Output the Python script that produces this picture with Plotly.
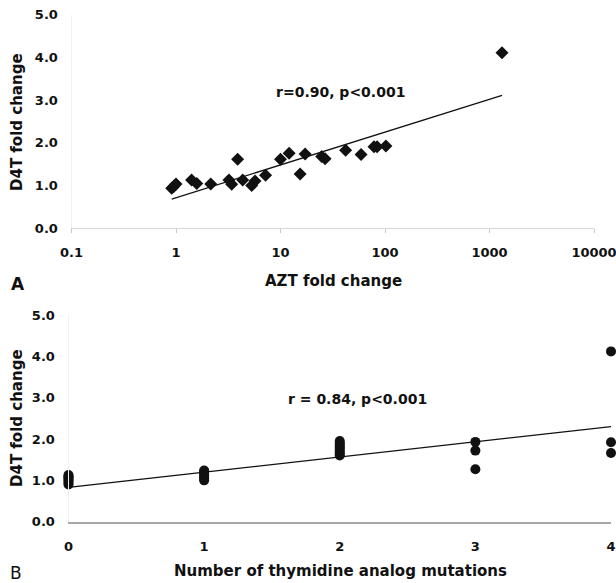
import plotly.graph_objects as go
import math

# Panel A data: AZT fold change vs D4T fold change
azt_fold = [0.91, 0.95, 1.0, 1.41, 1.58, 2.15, 3.21, 3.41, 3.89, 4.35, 5.3, 5.7, 7.2,
            10.0, 12.1, 15.4, 17.2, 24.8, 26.7, 42, 59, 78.5, 84, 102, 1318]
d4t_fold_a = [0.94, 0.98, 1.04, 1.13, 1.05, 1.04, 1.13, 1.03, 1.62, 1.13, 1.00, 1.11, 1.24,
              1.62, 1.76, 1.27, 1.74, 1.68, 1.63, 1.83, 1.73, 1.91, 1.91, 1.93, 4.11]
fit_a = {"intercept": 0.717, "slope": 0.768}  # y = a + b*log10(x)

# Panel B data: number of thymidine analog mutations vs D4T fold change
tam_count = [0, 0, 0, 0, 0, 0, 0,
             1, 1, 1, 1, 1, 1,
             2, 2, 2, 2, 2, 2, 2, 2,
             3, 3, 3,
             4, 4, 4]
d4t_fold_b = [0.90, 0.95, 1.00, 1.03, 1.07, 1.10, 1.13,
              1.00, 1.05, 1.10, 1.15, 1.20, 1.24,
              1.60, 1.65, 1.70, 1.75, 1.80, 1.85, 1.90, 1.95,
              1.93, 1.72, 1.27,
              4.12, 1.92, 1.66]
fit_b = {"intercept": 0.83, "slope": 0.368}

x_ticks_a = [0.1, 1, 10, 100, 1000, 10000]
x_ticktext_a = ["0.1", "1", "10", "100", "1000", "10000"]
y_ticks = [0, 1, 2, 3, 4, 5]
x_ticks_b = [0, 1, 2, 3, 4]

FONT = "DejaVu Sans"
INK = "#111111"
W, H = 616, 583

def px_x(p):
    return p / W

def px_y(p):
    return (H - p) / H

fig = go.Figure()

fig.add_trace(go.Scatter(x=azt_fold, y=d4t_fold_a, mode="markers",
                         marker=dict(symbol="diamond", size=10, color=INK),
                         xaxis="x", yaxis="y", cliponaxis=False, showlegend=False))
xa = [min(azt_fold), max(azt_fold)]
ya = [fit_a["intercept"] + fit_a["slope"] * math.log10(v) for v in xa]
fig.add_trace(go.Scatter(x=xa, y=ya, mode="lines", line=dict(color=INK, width=1.3),
                         xaxis="x", yaxis="y", cliponaxis=False, showlegend=False))

fig.add_trace(go.Scatter(x=tam_count, y=d4t_fold_b, mode="markers",
                         marker=dict(symbol="circle", size=10, color=INK),
                         xaxis="x2", yaxis="y2", cliponaxis=False, showlegend=False))
xb = [min(x_ticks_b), max(x_ticks_b)]
yb = [fit_b["intercept"] + fit_b["slope"] * v for v in xb]
fig.add_trace(go.Scatter(x=xb, y=yb, mode="lines", line=dict(color=INK, width=1.3),
                         xaxis="x2", yaxis="y2", cliponaxis=False, showlegend=False))

tickfont = dict(family=FONT, size=13, color=INK, weight="bold")

fig.update_layout(
    width=W, height=H, margin=dict(l=0, r=0, t=0, b=0, autoexpand=False),
    paper_bgcolor="white", plot_bgcolor="white",
    font=dict(family=FONT, color=INK),
    xaxis=dict(type="log", range=[-1, 4], domain=[px_x(71.5), px_x(594)],
               tickvals=x_ticks_a, ticktext=x_ticktext_a, tickfont=tickfont,
               showgrid=False, zeroline=False, showline=True, linecolor="#d8d8d8", linewidth=1,
               ticks="outside", ticklen=4, tickcolor="#c8c8c8", ticklabelstandoff=8,
               ticklabeloverflow="allow", anchor="y", automargin=False),
    yaxis=dict(range=[0, 5], domain=[px_y(228.3), px_y(14.8)],
               tickvals=y_ticks, tickformat=".1f", tickfont=tickfont,
               showgrid=False, zeroline=False, showline=True, linecolor="#f0f0f0", linewidth=1,
               ticks="", ticklabelstandoff=10, anchor="x", automargin=False),
    xaxis2=dict(range=[0, 4], domain=[px_x(68.5), px_x(611)],
                tickvals=x_ticks_b, tickfont=tickfont,
                showgrid=False, zeroline=False, showline=True, linecolor="#a8a8a8", linewidth=1.5,
                ticks="", ticklabelstandoff=12, ticklabeloverflow="allow",
                anchor="y2", automargin=False),
    yaxis2=dict(range=[0, 5], domain=[px_y(521.7), px_y(315)],
                tickvals=y_ticks, tickformat=".1f", tickfont=tickfont,
                showgrid=False, zeroline=False, showline=True, linecolor="#f0f0f0", linewidth=1,
                ticks="", ticklabelstandoff=10, anchor="x2", automargin=False),
)

def ann(text, x, y, size, bold=True, angle=0):
    fig.add_annotation(text=text, x=px_x(x), y=px_y(y), xref="paper", yref="paper",
                       showarrow=False, xanchor="center", yanchor="middle", textangle=angle,
                       font=dict(family=FONT, size=size, color=INK,
                                 weight="bold" if bold else "normal"))

ann("r=0.90, p&lt;0.001", 340, 92, 14)
ann("r = 0.84, p&lt;0.001", 357.5, 398.5, 14)
ann("AZT fold change", 333, 281, 15)
ann("Number of thymidine analog mutations", 340, 571, 15)
ann("D4T fold change", 17, 122, 15, angle=-90)
ann("D4T fold change", 17, 418, 15, angle=-90)
ann("A", 18, 284, 17)
ann("B", 15.5, 573, 17, bold=False)

fig.write_html("out.html", config={"displayModeBar": False},
               post_script="document.body.style.margin='0';document.body.style.overflow='hidden';")
